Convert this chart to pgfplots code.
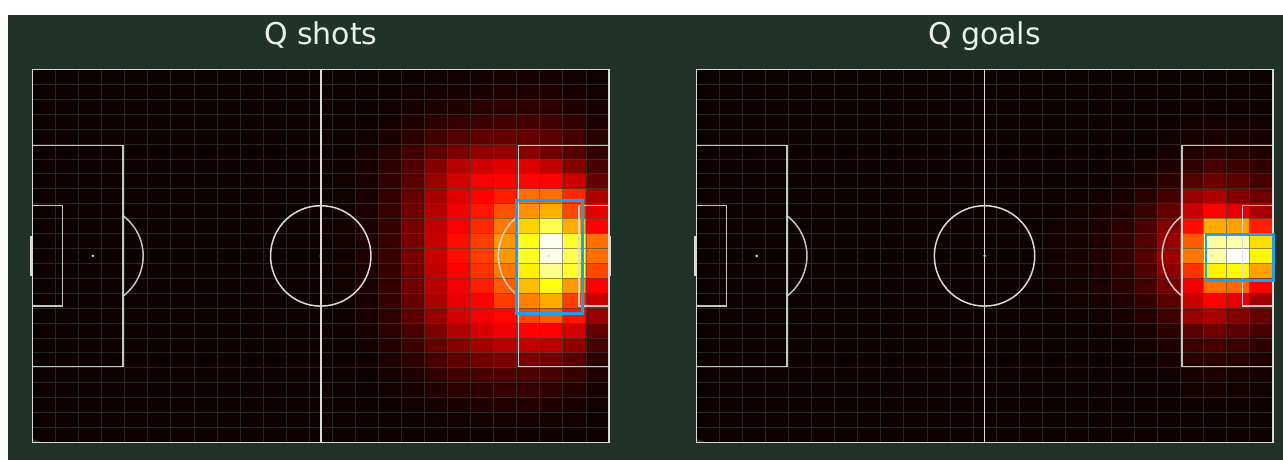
\documentclass[border=0pt]{standalone}
\usepackage{pgfplots}
\pgfplotsset{compat=1.18}
\usepackage{pgfplotstable}
\usepackage{fontspec}
\setmainfont{DejaVu Sans}
\definecolor{bgc}{RGB}{33,51,40}
\definecolor{gridc}{RGB}{62,72,62}
\definecolor{linec}{RGB}{218,218,218}
\definecolor{boxc}{RGB}{35,160,228}
\definecolor{titlec}{RGB}{238,238,238}
\pgfplotsset{colormap={hotm}{rgb255(0pt)=(0,0,0) rgb255(255pt)=(255,0,0) rgb255(510pt)=(255,255,0) rgb255(765pt)=(255,255,255)}}

\pgfplotstableread[row sep=\\]{
m\\
12\\12\\12\\12\\12\\12\\12\\12\\12\\12\\12\\12\\12\\12\\12\\12\\14\\16\\18\\20\\22\\24\\24\\20\\16\\
12\\12\\12\\12\\12\\12\\12\\12\\12\\12\\12\\12\\12\\12\\12\\14\\17\\20\\24\\28\\30\\32\\30\\25\\18\\
12\\12\\12\\12\\12\\12\\12\\12\\12\\12\\12\\12\\12\\12\\12\\16\\22\\28\\34\\40\\44\\46\\44\\35\\24\\
12\\12\\12\\12\\12\\12\\12\\12\\12\\12\\12\\12\\12\\12\\15\\20\\30\\42\\52\\60\\66\\68\\62\\48\\30\\
12\\12\\12\\12\\12\\12\\12\\12\\12\\12\\12\\12\\12\\12\\18\\28\\45\\65\\82\\95\\102\\100\\90\\68\\40\\
12\\12\\12\\12\\12\\12\\12\\12\\12\\12\\12\\12\\12\\14\\22\\38\\65\\95\\125\\145\\150\\135\\115\\85\\50\\
12\\12\\12\\12\\12\\12\\12\\12\\12\\12\\12\\12\\12\\15\\25\\45\\80\\130\\180\\205\\225\\220\\190\\130\\70\\
12\\12\\12\\12\\12\\12\\12\\12\\12\\12\\12\\12\\12\\16\\27\\50\\90\\150\\210\\250\\255\\258\\255\\200\\100\\
12\\12\\12\\12\\12\\12\\12\\12\\12\\12\\12\\12\\12\\17\\28\\52\\100\\165\\225\\255\\285\\365\\365\\295\\170\\
12\\12\\12\\12\\12\\12\\12\\12\\12\\12\\12\\12\\12\\18\\30\\55\\110\\180\\240\\275\\335\\400\\430\\325\\225\\
12\\12\\12\\12\\12\\12\\12\\12\\12\\12\\12\\12\\12\\18\\30\\57\\118\\190\\250\\295\\375\\465\\590\\425\\255\\
12\\12\\12\\12\\12\\12\\12\\12\\12\\12\\12\\12\\12\\18\\31\\58\\120\\200\\265\\315\\405\\530\\750\\550\\365\\
12\\12\\12\\12\\12\\12\\12\\12\\12\\12\\12\\12\\12\\18\\31\\58\\120\\200\\265\\315\\405\\540\\745\\590\\365\\
12\\12\\12\\12\\12\\12\\12\\12\\12\\12\\12\\12\\12\\18\\30\\57\\115\\195\\255\\305\\375\\495\\650\\550\\325\\
12\\12\\12\\12\\12\\12\\12\\12\\12\\12\\12\\12\\12\\17\\29\\55\\110\\185\\245\\285\\345\\445\\520\\405\\255\\
12\\12\\12\\12\\12\\12\\12\\12\\12\\12\\12\\12\\12\\16\\28\\52\\100\\170\\230\\255\\315\\385\\425\\315\\200\\
12\\12\\12\\12\\12\\12\\12\\12\\12\\12\\12\\12\\12\\15\\26\\48\\90\\150\\210\\245\\260\\325\\345\\275\\150\\
12\\12\\12\\12\\12\\12\\12\\12\\12\\12\\12\\12\\12\\14\\23\\42\\75\\125\\175\\215\\240\\255\\255\\210\\100\\
12\\12\\12\\12\\12\\12\\12\\12\\12\\12\\12\\12\\12\\13\\20\\35\\60\\100\\135\\165\\185\\195\\185\\145\\70\\
12\\12\\12\\12\\12\\12\\12\\12\\12\\12\\12\\12\\12\\12\\17\\28\\45\\70\\95\\115\\125\\125\\115\\90\\48\\
12\\12\\12\\12\\12\\12\\12\\12\\12\\12\\12\\12\\12\\12\\12\\22\\32\\48\\62\\72\\78\\78\\72\\56\\32\\
12\\12\\12\\12\\12\\12\\12\\12\\12\\12\\12\\12\\12\\12\\12\\17\\24\\34\\42\\48\\52\\52\\48\\38\\24\\
12\\12\\12\\12\\12\\12\\12\\12\\12\\12\\12\\12\\12\\12\\12\\12\\18\\24\\28\\32\\34\\34\\32\\27\\18\\
12\\12\\12\\12\\12\\12\\12\\12\\12\\12\\12\\12\\12\\12\\12\\12\\12\\16\\19\\21\\22\\22\\21\\18\\14\\
12\\12\\12\\12\\12\\12\\12\\12\\12\\12\\12\\12\\12\\12\\12\\12\\12\\12\\12\\14\\15\\15\\14\\13\\12\\
}\shots

\pgfplotstableread[row sep=\\]{
m\\
12\\12\\12\\12\\12\\12\\12\\12\\12\\12\\12\\12\\12\\12\\12\\12\\12\\12\\12\\12\\12\\12\\12\\12\\12\\
12\\12\\12\\12\\12\\12\\12\\12\\12\\12\\12\\12\\12\\12\\12\\12\\12\\12\\12\\12\\12\\12\\12\\12\\12\\
12\\12\\12\\12\\12\\12\\12\\12\\12\\12\\12\\12\\12\\12\\12\\12\\12\\12\\12\\12\\12\\14\\15\\14\\13\\
12\\12\\12\\12\\12\\12\\12\\12\\12\\12\\12\\12\\12\\12\\12\\12\\12\\12\\12\\12\\14\\18\\20\\18\\16\\
12\\12\\12\\12\\12\\12\\12\\12\\12\\12\\12\\12\\12\\12\\12\\12\\12\\12\\12\\12\\16\\24\\28\\26\\22\\
12\\12\\12\\12\\12\\12\\12\\12\\12\\12\\12\\12\\12\\12\\12\\12\\12\\12\\12\\15\\22\\35\\42\\38\\30\\
12\\12\\12\\12\\12\\12\\12\\12\\12\\12\\12\\12\\12\\12\\12\\12\\12\\12\\15\\20\\30\\50\\68\\60\\48\\
12\\12\\12\\12\\12\\12\\12\\12\\12\\12\\12\\12\\12\\12\\12\\12\\12\\15\\20\\28\\45\\82\\108\\90\\70\\
12\\12\\12\\12\\12\\12\\12\\12\\12\\12\\12\\12\\12\\12\\12\\12\\15\\19\\26\\40\\68\\150\\172\\130\\110\\
12\\12\\12\\12\\12\\12\\12\\12\\12\\12\\12\\12\\12\\12\\12\\15\\18\\24\\34\\56\\100\\200\\255\\228\\168\\
12\\12\\12\\12\\12\\12\\12\\12\\12\\12\\12\\12\\12\\12\\14\\17\\21\\28\\42\\72\\130\\265\\425\\415\\285\\
12\\12\\12\\12\\12\\12\\12\\12\\12\\12\\12\\12\\12\\12\\15\\18\\23\\31\\48\\85\\150\\345\\670\\680\\475\\
12\\12\\12\\12\\12\\12\\12\\12\\12\\12\\12\\12\\12\\12\\15\\18\\23\\31\\50\\88\\155\\375\\680\\765\\500\\
12\\12\\12\\12\\12\\12\\12\\12\\12\\12\\12\\12\\12\\12\\15\\18\\22\\30\\46\\80\\140\\305\\495\\505\\415\\
12\\12\\12\\12\\12\\12\\12\\12\\12\\12\\12\\12\\12\\12\\14\\17\\20\\27\\40\\68\\118\\240\\365\\355\\255\\
12\\12\\12\\12\\12\\12\\12\\12\\12\\12\\12\\12\\12\\12\\12\\15\\18\\23\\32\\52\\88\\200\\255\\230\\160\\
12\\12\\12\\12\\12\\12\\12\\12\\12\\12\\12\\12\\12\\12\\12\\12\\15\\19\\25\\38\\60\\150\\170\\130\\100\\
12\\12\\12\\12\\12\\12\\12\\12\\12\\12\\12\\12\\12\\12\\12\\12\\12\\15\\19\\27\\42\\90\\110\\90\\70\\
12\\12\\12\\12\\12\\12\\12\\12\\12\\12\\12\\12\\12\\12\\12\\12\\12\\12\\15\\20\\30\\60\\70\\60\\45\\
12\\12\\12\\12\\12\\12\\12\\12\\12\\12\\12\\12\\12\\12\\12\\12\\12\\12\\12\\15\\22\\40\\45\\40\\30\\
12\\12\\12\\12\\12\\12\\12\\12\\12\\12\\12\\12\\12\\12\\12\\12\\12\\12\\12\\12\\16\\27\\30\\27\\22\\
12\\12\\12\\12\\12\\12\\12\\12\\12\\12\\12\\12\\12\\12\\12\\12\\12\\12\\12\\12\\12\\18\\20\\18\\16\\
12\\12\\12\\12\\12\\12\\12\\12\\12\\12\\12\\12\\12\\12\\12\\12\\12\\12\\12\\12\\12\\14\\15\\14\\13\\
12\\12\\12\\12\\12\\12\\12\\12\\12\\12\\12\\12\\12\\12\\12\\12\\12\\12\\12\\12\\12\\12\\12\\12\\12\\
12\\12\\12\\12\\12\\12\\12\\12\\12\\12\\12\\12\\12\\12\\12\\12\\12\\12\\12\\12\\12\\12\\12\\12\\12\\
}\goals

\pgfplotsset{pitch/.style={
  at={(#1,17.7pt)}, anchor=south west, scale only axis,
  width=576.5pt, height=372.8pt,
  xmin=0, xmax=105, ymin=0, ymax=68, y dir=reverse,
  enlargelimits=false, clip=false,
  axis line style={draw=none}, major tick length=0pt,
  xtick=\empty, ytick=\empty,
  colormap name=hotm, point meta min=0, point meta max=765}}

\newcommand{\pitchlines}{%
  \draw[gridc, line width=0.8pt, opacity=0.55]
    (axis cs:4.2,0) -- (axis cs:4.2,68) (axis cs:8.4,0) -- (axis cs:8.4,68)
    (axis cs:12.6,0) -- (axis cs:12.6,68) (axis cs:16.8,0) -- (axis cs:16.8,68)
    (axis cs:21,0) -- (axis cs:21,68) (axis cs:25.2,0) -- (axis cs:25.2,68)
    (axis cs:29.4,0) -- (axis cs:29.4,68) (axis cs:33.6,0) -- (axis cs:33.6,68)
    (axis cs:37.8,0) -- (axis cs:37.8,68) (axis cs:42,0) -- (axis cs:42,68)
    (axis cs:46.2,0) -- (axis cs:46.2,68) (axis cs:50.4,0) -- (axis cs:50.4,68)
    (axis cs:54.6,0) -- (axis cs:54.6,68) (axis cs:58.8,0) -- (axis cs:58.8,68)
    (axis cs:63,0) -- (axis cs:63,68) (axis cs:67.2,0) -- (axis cs:67.2,68)
    (axis cs:71.4,0) -- (axis cs:71.4,68) (axis cs:75.6,0) -- (axis cs:75.6,68)
    (axis cs:79.8,0) -- (axis cs:79.8,68) (axis cs:84,0) -- (axis cs:84,68)
    (axis cs:88.2,0) -- (axis cs:88.2,68) (axis cs:92.4,0) -- (axis cs:92.4,68)
    (axis cs:96.6,0) -- (axis cs:96.6,68) (axis cs:100.8,0) -- (axis cs:100.8,68)
    (axis cs:0,2.72) -- (axis cs:105,2.72) (axis cs:0,5.44) -- (axis cs:105,5.44)
    (axis cs:0,8.16) -- (axis cs:105,8.16) (axis cs:0,10.88) -- (axis cs:105,10.88)
    (axis cs:0,13.6) -- (axis cs:105,13.6) (axis cs:0,16.32) -- (axis cs:105,16.32)
    (axis cs:0,19.04) -- (axis cs:105,19.04) (axis cs:0,21.76) -- (axis cs:105,21.76)
    (axis cs:0,24.48) -- (axis cs:105,24.48) (axis cs:0,27.2) -- (axis cs:105,27.2)
    (axis cs:0,29.92) -- (axis cs:105,29.92) (axis cs:0,32.64) -- (axis cs:105,32.64)
    (axis cs:0,35.36) -- (axis cs:105,35.36) (axis cs:0,38.08) -- (axis cs:105,38.08)
    (axis cs:0,40.8) -- (axis cs:105,40.8) (axis cs:0,43.52) -- (axis cs:105,43.52)
    (axis cs:0,46.24) -- (axis cs:105,46.24) (axis cs:0,48.96) -- (axis cs:105,48.96)
    (axis cs:0,51.68) -- (axis cs:105,51.68) (axis cs:0,54.4) -- (axis cs:105,54.4)
    (axis cs:0,57.12) -- (axis cs:105,57.12) (axis cs:0,59.84) -- (axis cs:105,59.84)
    (axis cs:0,62.56) -- (axis cs:105,62.56) (axis cs:0,65.28) -- (axis cs:105,65.28);
  \draw[linec, line width=1.6pt] (axis cs:0,0) rectangle (axis cs:105,68);
  \draw[linec, line width=1.5pt] (axis cs:52.5,0) -- (axis cs:52.5,68);
  \draw[linec, line width=1.5pt] (axis cs:52.5,34) circle[radius=50.2pt];
  \fill[linec] (axis cs:52.5,34) circle[radius=1.4pt];
  \draw[linec, line width=1.5pt, opacity=0.9] (axis cs:0,13.84) rectangle (axis cs:16.5,54.16);
  \draw[linec, line width=1.5pt, opacity=0.9] (axis cs:105,13.84) rectangle (axis cs:88.5,54.16);
  \draw[linec, line width=1.5pt, opacity=0.9] (axis cs:0,24.84) rectangle (axis cs:5.5,43.16);
  \draw[linec, line width=1.5pt, opacity=0.9] (axis cs:105,24.84) rectangle (axis cs:99.5,43.16);
  \fill[linec] (axis cs:11,34) circle[radius=1.4pt];
  \fill[linec] (axis cs:94,34) circle[radius=1.4pt];
  \draw[linec, line width=1.5pt, opacity=0.9] (axis cs:16.5,26.68) arc[start angle=53.13, end angle=-53.13, radius=50.2pt];
  \draw[linec, line width=1.5pt, opacity=0.9] (axis cs:88.5,26.68) arc[start angle=126.87, end angle=233.13, radius=50.2pt];
  \draw[linec, line width=2.2pt] (axis cs:-0.25,30.34) -- (axis cs:-0.25,37.66);
  \draw[linec, line width=2.2pt] (axis cs:105.25,30.34) -- (axis cs:105.25,37.66);
}

\begin{document}
\begin{tikzpicture}[x=1pt,y=1pt]
\fill[white] (0,0) rectangle (1283,460);
\fill[bgc] (8,0) rectangle (1283,445);
\useasboundingbox (0,0) rectangle (1283,460);

\begin{axis}[pitch=32.5pt]
\addplot[matrix plot*, mesh/cols=25, mesh/rows=25, point meta=explicit]
  table[x index=0, y index=0, x expr={mod(\coordindex,25)*4.2+2.1}, y expr={(floor(\coordindex/25)+0.5)*2.72}, meta index=0] {\shots};
\pitchlines
\draw[boxc, line width=2.6pt] (axis cs:88.1,23.9) rectangle (axis cs:100.2,44.5);
\end{axis}

\begin{axis}[pitch=696.3pt]
\addplot[matrix plot*, mesh/cols=25, mesh/rows=25, point meta=explicit]
  table[x index=0, y index=0, x expr={mod(\coordindex,25)*4.2+2.1}, y expr={(floor(\coordindex/25)+0.5)*2.72}, meta index=0] {\goals};
\pitchlines
\draw[boxc, line width=2.6pt] (axis cs:92.8,30.1) rectangle (axis cs:105.1,38.5);
\end{axis}

% background strip below the pitches
\fill[bgc] (8,0) rectangle (1283,16.85);

\node[anchor=base, text=titlec, font=\fontsize{30}{36}\selectfont] at (320.8,415) {Q shots};
\node[anchor=base, text=titlec, font=\fontsize{30}{36}\selectfont] at (984.5,415) {Q goals};
\end{tikzpicture}
\end{document}
